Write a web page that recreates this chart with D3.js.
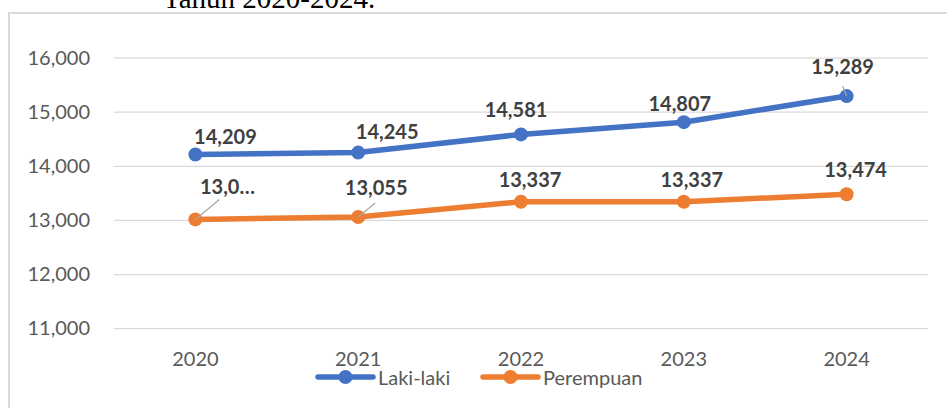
<!DOCTYPE html>
<html lang="en">

<head>
  <meta charset="UTF-8">
  <title>Laki-laki dan Perempuan 2020-2024</title>
  <script src="https://d3js.org/d3.v7.min.js"></script>
  <style>
    * {
      margin: 0;
      padding: 0;
    }

    body {
      background: #fff;
      overflow: hidden;
    }

    svg {
      display: block;
    }
  </style>
</head>

<body>
  <div class="chart"></div>
  <script>
    var years = ['2020', '2021', '2022', '2023', '2024'];
    var lakiLaki = [14209, 14245, 14581, 14807, 15289];
    var perempuan = [13010, 13055, 13337, 13337, 13474];
    var yTicks = [11000, 12000, 13000, 14000, 15000, 16000];
    var seriesNames = ['Laki-laki', 'Perempuan'];
    // label text ("13,0…" was cut short in the source chart)
    var lakiLabels = ['14,209', '14,245', '14,581', '14,807', '15,289'];
    var perempuanLabels = ['13,0…', '13,055', '13,337', '13,337', '13,474'];

    // label offsets from the point [dx, dy of baseline]
    var lakiOffsets = [[30, -11], [29, -14], [-5, -17], [-4, -11], [-4, -22]];
    var perempuanOffsets = [[32, -25], [18, -22], [9, -15], [8, -15], [9, -17]];
    // leader lines [dx, dy] (null = none)
    var lakiLeaders = [null, null, null, null, [-4, -10]];
    var perempuanLeaders = [[24, -20], [17, -14], null, null, null];

    var width = 947;
    var height = 408;
    var colors = ['#4472C4', '#ED7D31'];

    var svg = d3.select('.chart')
      .append('svg')
      .attr('width', width)
      .attr('height', height);

    // title fragment, cut off at the top like in the source
    svg.append('text')
      .attr('x', 163)
      .attr('y', 8)
      .attr('font-family', '"Liberation Serif", "Times New Roman", serif')
      .attr('font-size', 29)
      .attr('fill', '#000')
      .text('Tahun 2020-2024.');

    // chart frame (only top and left visible)
    svg.append('path')
      .attr('d', 'M9,' + height + 'V13H' + width)
      .attr('fill', 'none')
      .attr('stroke', '#d9d9d9')
      .attr('stroke-width', 2);

    var xScale = d3.scaleBand()
      .domain(years)
      .range([114, 928]);

    var yScale = d3.scaleLinear()
      .domain([11000, 16000])
      .range([328.2, 57.6]);

    // gridlines + y labels
    var yAxis = d3.axisLeft(yScale)
      .tickValues(yTicks)
      .tickFormat(d3.format(','))
      .tickSize(-(928 - 114))
      .tickPadding(24);

    var gy = svg.append('g')
      .attr('transform', 'translate(114,0)')
      .call(yAxis);
    gy.select('.domain').remove();
    gy.selectAll('line')
      .attr('stroke', '#d9d9d9')
      .attr('stroke-width', 1.3);
    gy.selectAll('text')
      .attr('font-family', 'Lato, "Open Sans", sans-serif')
      .attr('font-size', 20)
      .attr('fill', '#595959');

    // x labels
    var xAxis = d3.axisBottom(xScale).tickSize(0).tickPadding(0);
    var gx = svg.append('g')
      .attr('transform', 'translate(0,352)')
      .call(xAxis);
    gx.select('.domain').remove();
    gx.selectAll('text')
      .attr('dy', '0.72em')
      .attr('font-family', 'Lato, "Open Sans", sans-serif')
      .attr('font-size', 20)
      .attr('fill', '#595959');

    var line = d3.line()
      .x(function (d, i) { return xScale(years[i]) + xScale.bandwidth() / 2; })
      .y(function (d) { return yScale(d); });

    var series = [
      { values: lakiLaki, labels: lakiLabels, offsets: lakiOffsets, leaders: lakiLeaders },
      { values: perempuan, labels: perempuanLabels, offsets: perempuanOffsets, leaders: perempuanLeaders }
    ];

    series.forEach(function (s, k) {
      var pts = s.values.map(function (v, i) {
        return { v: v, i: i, x: line.x()(v, i), y: yScale(v) };
      });
      var g = svg.append('g');
      g.append('path')
        .attr('d', line(s.values))
        .attr('fill', 'none')
        .attr('stroke', colors[k])
        .attr('stroke-width', 5.5)
        .attr('stroke-linejoin', 'round')
        .attr('stroke-linecap', 'round');

      g.selectAll('circle')
        .data(pts)
        .enter()
        .append('circle')
        .attr('cx', function (d) { return d.x; })
        .attr('cy', function (d) { return d.y; })
        .attr('r', 7)
        .attr('fill', colors[k]);

      g.selectAll('.leader')
        .data(pts.filter(function (d) { return s.leaders[d.i]; }))
        .enter()
        .append('line')
        .attr('class', 'leader')
        .attr('x1', function (d) { return d.x; })
        .attr('y1', function (d) { return d.y; })
        .attr('x2', function (d) { return d.x + s.leaders[d.i][0]; })
        .attr('y2', function (d) { return d.y + s.leaders[d.i][1]; })
        .attr('stroke', '#a6a6a6')
        .attr('stroke-width', 1.2);

      g.selectAll('.lbl')
        .data(pts)
        .enter()
        .append('text')
        .attr('class', 'lbl')
        .attr('x', function (d) { return d.x + s.offsets[d.i][0]; })
        .attr('y', function (d) { return d.y + s.offsets[d.i][1]; })
        .attr('text-anchor', 'middle')
        .attr('font-family', 'Lato, "Open Sans", sans-serif')
        .attr('font-weight', 'bold')
        .attr('font-size', 20)
        .attr('fill', '#404040')
        .text(function (d) { return s.labels[d.i]; });
    });

    // legend
    var legendX = [318, 483];
    var legend = svg.selectAll('.legend')
      .data(seriesNames)
      .enter()
      .append('g')
      .attr('class', 'legend')
      .attr('transform', function (d, i) { return 'translate(' + legendX[i] + ',377)'; });

    legend.append('line')
      .attr('x1', 0)
      .attr('x2', 55)
      .attr('stroke', function (d, i) { return colors[i]; })
      .attr('stroke-width', 5.5)
      .attr('stroke-linecap', 'round');

    legend.append('circle')
      .attr('cx', 27.5)
      .attr('r', 7)
      .attr('fill', function (d, i) { return colors[i]; });

    legend.append('text')
      .attr('x', 60)
      .attr('y', 8)
      .attr('font-family', 'Lato, "Open Sans", sans-serif')
      .attr('font-size', 20)
      .attr('fill', '#595959')
      .text(function (d) { return d; });
  </script>
</body>

</html>
